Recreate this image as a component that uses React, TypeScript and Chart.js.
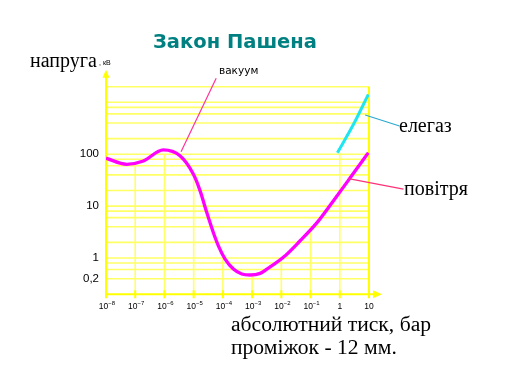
import React, { useEffect, useRef } from 'react';
import { Chart, registerables } from 'chart.js';
Chart.register(...registerables);

// ---- data ----
const airPressure = [1e-8, 5.1e-8, 1.9e-7, 9.1e-7, 3.4e-6, 9.8e-6, 1.66e-5, 2.81e-5, 4.7e-5, 7.0e-5, 1.19e-4, 2.29e-4, 4.44e-4, 8.5e-4, 1.88e-3, 3.2e-3, 0.0117, 0.044, 0.166, 0.6, 2.3, 9.5];
const airVoltage = [84, 64, 74, 121, 93, 41, 19.7, 7.5, 3.1, 1.72, 0.957, 0.614, 0.492, 0.471, 0.506, 0.61, 1.03, 2.15, 4.8, 12.6, 35.5, 107];
const sf6Pressure = [0.83, 2.95, 9.5];
const sf6Voltage = [107, 377, 1425];

const xTickValues = [1e-8, 1e-7, 1e-6, 1e-5, 1e-4, 1e-3, 1e-2, 1e-1, 1, 10];
const xTickBase = ['10', '10', '10', '10', '10', '10', '10', '10', '1', '10'];
const xTickSup = ['−8', '−7', '−6', '−5', '−4', '−3', '−2', '−1', '', ''];

const yGridValues = [0.4, 0.6, 0.8, 1, 2, 4, 6, 8, 10, 20, 40, 60, 80, 100, 200, 400, 600, 800, 1000, 2000];
const yLabelValues = [100, 10, 1, 0.4];
const yLabelTexts = ['100', '10', '1', '0,2'];

// vertical drop lines from the curves down to the axis
const dropX = [1e-7, 1e-6, 1e-5, 1e-4, 1e-3, 1e-2, 1e-1, 1];
const dropTop = [60, 101, 42, 1.2, 0.47, 1.0, 3.7, 107];

// leader lines (data coords): [fromX, fromY, toX, toY]
const vacuumPointer = [3.7e-6, 112, 5.9e-5, 2900];
const sf6Pointer = [7.4, 570, 111, 350];
const airPointer = [1.99, 34, 151, 21.2];

const X_MIN = 1e-8, X_MAX = 10, Y_MIN = 0.2, Y_MAX = 2000;

const GRID = '#ffff66';
const AXIS = '#ffff00';

const paschenPlugin = {
  id: 'paschen',
  beforeDatasetsDraw(chart: any) {
    const { ctx } = chart;
    const x = chart.scales.x, y = chart.scales.y;
    const L = x.getPixelForValue(X_MIN), R = x.getPixelForValue(X_MAX);
    const B = y.getPixelForValue(Y_MIN), T = y.getPixelForValue(Y_MAX);
    ctx.save();
    // horizontal grid
    ctx.strokeStyle = GRID;
    ctx.lineWidth = 1.6;
    for (const v of yGridValues) {
      const py = y.getPixelForValue(v);
      ctx.beginPath(); ctx.moveTo(L, py); ctx.lineTo(R, py); ctx.stroke();
    }
    // drop lines
    for (let i = 0; i < dropX.length; i++) {
      const px = x.getPixelForValue(dropX[i]);
      const py = y.getPixelForValue(dropTop[i]);
      ctx.beginPath(); ctx.moveTo(px, B); ctx.lineTo(px, py); ctx.stroke();
    }
    // right border
    ctx.strokeStyle = AXIS;
    ctx.lineWidth = 2;
    ctx.beginPath(); ctx.moveTo(R, B); ctx.lineTo(R, T); ctx.stroke();
    // axes
    ctx.lineWidth = 2;
    ctx.beginPath(); ctx.moveTo(L, B + 1); ctx.lineTo(L, T - 10); ctx.stroke();
    ctx.beginPath(); ctx.moveTo(L - 1, B); ctx.lineTo(R + 5, B); ctx.stroke();
    ctx.fillStyle = AXIS;
    // y arrow
    ctx.beginPath(); ctx.moveTo(L - 3.5, T - 9); ctx.lineTo(L + 3.5, T - 9); ctx.lineTo(L, T - 17); ctx.closePath(); ctx.fill();
    // x arrow
    ctx.beginPath(); ctx.moveTo(R + 4, B - 4); ctx.lineTo(R + 4, B + 4); ctx.lineTo(R + 13, B); ctx.closePath(); ctx.fill();
    // x ticks
    for (const v of xTickValues) {
      const px = x.getPixelForValue(v);
      ctx.beginPath(); ctx.moveTo(px, B - 4); ctx.lineTo(px, B + 4); ctx.stroke();
    }
    ctx.restore();
  },
  afterDatasetsDraw(chart: any) {
    const { ctx } = chart;
    const x = chart.scales.x, y = chart.scales.y;
    const L = x.getPixelForValue(X_MIN);
    const B = y.getPixelForValue(Y_MIN);
    ctx.save();
    // leader lines
    const lead = (p: number[], color: string) => {
      ctx.strokeStyle = color; ctx.lineWidth = 1.2;
      ctx.beginPath();
      ctx.moveTo(x.getPixelForValue(p[0]), y.getPixelForValue(p[1]));
      ctx.lineTo(x.getPixelForValue(p[2]), y.getPixelForValue(p[3]));
      ctx.stroke();
    };
    lead(vacuumPointer, '#ff3399');
    lead(sf6Pointer, '#2aa8d0');
    lead(airPointer, '#ff3377');

    ctx.fillStyle = '#000';
    // x tick labels
    ctx.textBaseline = 'alphabetic';
    for (let i = 0; i < xTickValues.length; i++) {
      const px = x.getPixelForValue(xTickValues[i]);
      ctx.font = '8.5px "Liberation Sans"';
      const wb = ctx.measureText(xTickBase[i]).width;
      ctx.font = '6px "Liberation Sans"';
      const ws = xTickSup[i] ? ctx.measureText(xTickSup[i]).width : 0;
      const start = px - (wb + ws) / 2 + (ws ? 1 : 0);
      ctx.font = '8.5px "Liberation Sans"';
      ctx.textAlign = 'left';
      ctx.fillText(xTickBase[i], start, B + 15);
      if (ws) {
        ctx.font = '6px "Liberation Sans"';
        ctx.fillText(xTickSup[i], start + wb, B + 11);
      }
    }
    // y labels
    ctx.font = '11.5px "Liberation Sans"';
    ctx.textAlign = 'right';
    ctx.textBaseline = 'middle';
    for (let i = 0; i < yLabelValues.length; i++) {
      ctx.fillText(yLabelTexts[i], L - 7, y.getPixelForValue(yLabelValues[i]));
    }
    // texts
    ctx.textBaseline = 'alphabetic';
    ctx.textAlign = 'left';
    ctx.fillStyle = '#008080';
    ctx.font = 'bold 19.5px "DejaVu Sans"';
    ctx.fillText('Закон Пашена', 153, 48);
    ctx.fillStyle = '#000';
    ctx.font = '20px "Liberation Serif"';
    ctx.fillText('напруга', 30, 67);
    ctx.font = '7px "Liberation Sans"';
    ctx.fillText(', кВ', 99, 65);
    ctx.font = '10.5px "DejaVu Sans"';
    ctx.fillText('вакуум', 219, 74);
    ctx.font = '20px "Liberation Serif"';
    ctx.fillText('елегаз', 399, 132);
    ctx.fillText('повітря', 404, 195);
    ctx.font = '21.6px "Liberation Serif"';
    ctx.fillText('абсолютний тиск, бар', 231, 331);
    ctx.fillText('проміжок - 12 мм.', 231, 354);
    ctx.restore();
  },
};

export default function App() {
  const ref = useRef<HTMLCanvasElement>(null);
  useEffect(() => {
    const chart = new Chart(ref.current as HTMLCanvasElement, {
      type: 'line',
      data: {
        datasets: [
          {
            label: 'повітря',
            data: airPressure.map((p, i) => ({ x: p, y: airVoltage[i] })),
            borderColor: '#ff00ff',
            borderWidth: 3.3,
            pointRadius: 0,
            cubicInterpolationMode: 'monotone',
            fill: false,
          },
          {
            label: 'елегаз',
            data: sf6Pressure.map((p, i) => ({ x: p, y: sf6Voltage[i] })),
            borderColor: '#1ee6f0',
            borderWidth: 3,
            pointRadius: 0,
            cubicInterpolationMode: 'monotone',
            fill: false,
          },
        ],
      },
      options: {
        animation: false,
        responsive: false,
        devicePixelRatio: 1,
        events: [],
        layout: { padding: { left: 106, right: 138, top: 86.7, bottom: 82.7 } },
        scales: {
          x: { type: 'logarithmic', min: X_MIN, max: X_MAX, display: false },
          y: { type: 'logarithmic', min: Y_MIN, max: Y_MAX, display: false },
        },
        plugins: { legend: { display: false }, tooltip: { enabled: false } },
      },
      plugins: [paschenPlugin],
    } as any);
    return () => chart.destroy();
  }, []);
  return (
    <div style={{ position: 'absolute', left: 0, top: 0, width: 507, height: 377, background: '#fff' }}>
      <canvas ref={ref} width={507} height={377} />
    </div>
  );
}
